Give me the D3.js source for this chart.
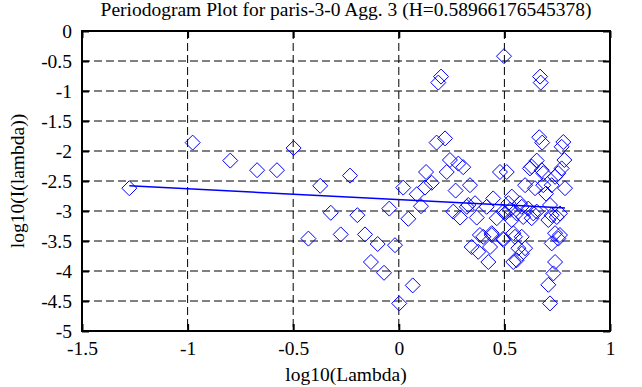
<!DOCTYPE html>
<html>
<head>
<meta charset="utf-8">
<script src="https://cdn.jsdelivr.net/npm/d3@7"></script>
<style>
  body { margin: 0; background: #fff; }
  svg text { font-family: "Liberation Serif", "Times New Roman", serif; fill: #000; }
</style>
</head>
<body>
<svg id="chart"></svg>
<script>
const titleText = 'Periodogram Plot for paris-3-0 Agg. 3 (H=0.58966176545378)';
const xLabel = 'log10(Lambda)';
const yLabel = 'log10(I(lambda))';

const xTicks = [-1.5, -1, -0.5, 0, 0.5, 1];
const yTicks = [0, -0.5, -1, -1.5, -2, -2.5, -3, -3.5, -4, -4.5, -5];

// periodogram points
const logLambda = [
  -1.276, -0.976, -0.798, -0.671, -0.577, -0.498, -0.428, -0.372, -0.322, -0.275,
  -0.231, -0.196, -0.160, -0.100, -0.132, -0.070, -0.018, -0.045, 0.002, 0.021,
  0.045, 0.066, 0.085, 0.105, 0.124, 0.129, 0.156, 0.179, 0.219, 0.200,
  0.187, 0.227, 0.242, 0.282, 0.305, 0.269, 0.337, 0.258, 0.290, 0.329,
  0.361, 0.369, 0.416, 0.447, 0.464, 0.495, 0.519, 0.384, 0.440, 0.495,
  0.345, 0.376, 0.432, 0.424, 0.542, 0.498, 0.479, 0.511, 0.535, 0.542,
  0.582, 0.566, 0.598, 0.582, 0.558, 0.550,
  0.669, 0.672, 0.665, 0.679, 0.779, 0.771, 0.784, 0.653, 0.629, 0.677,
  0.684, 0.621, 0.771, 0.755, 0.740, 0.598, 0.645, 0.684, 0.697, 0.724, 0.787,
  0.527, 0.558, 0.589, 0.629, 0.582, 0.613, 0.653, 0.716, 0.724, 0.708,
  0.763, 0.748, 0.740, 0.763, 0.755, 0.724, 0.740, 0.732, 0.708, 0.716,
  0.574, 0.637, 0.400, 0.440, 0.495, 0.322, 0.503, 0.535
];
const logI = [
  -2.62, -1.86, -2.16, -2.32, -2.32, -1.95, -3.46, -2.58, -3.03, -3.39,
  -2.41, -3.07, -3.39, -3.55, -3.85, -4.03, -3.57, -2.96, -4.54, -2.61,
  -3.13, -4.24, -2.72, -2.92, -2.61, -2.35, -2.53, -1.86, -1.79, -0.76,
  -0.86, -2.35, -2.15, -2.21, -2.27, -2.66, -2.57, -3.01, -3.11, -2.90,
  -2.87, -3.11, -2.93, -2.79, -3.12, -3.01, -2.87, -3.40, -3.40, -3.48,
  -3.60, -3.68, -3.60, -3.85, -3.85, -0.42, -2.35, -2.35, -2.76, -3.37,
  -3.43, -3.62, -3.62, -3.71, -3.82, -3.43,
  -0.76, -0.86, -1.77, -1.86, -1.85, -1.93, -2.15, -2.16, -2.26, -2.32,
  -2.37, -2.29, -2.29, -2.37, -2.43, -2.57, -2.62, -2.57, -2.71, -2.57, -2.62,
  -2.98, -3.04, -3.10, -3.12, -2.93, -2.96, -3.01, -2.90, -3.07, -3.15,
  -3.04, -3.10, -3.37, -3.40, -3.46, -3.54, -3.85, -4.04, -4.23, -4.54,
  -2.87, -3.04, -3.43, -3.37, -3.46, -2.93, -3.04, -3.15
];

// least squares fit line ends
const fitX = [-1.276, 0.787];
const fitY = [-2.58, -2.95];

const width = 642;
const height = 387;
const plot = { left: 82, right: 610, top: 31, bottom: 331 };
const fontSize = 19.5;
const fontFamily = '"Liberation Serif", "Times New Roman", serif';

const svg = d3.select('#chart')
  .attr('width', width)
  .attr('height', height);

const x = d3.scaleLinear().domain([-1.5, 1]).range([plot.left, plot.right]);
const y = d3.scaleLinear().domain([-5, 0]).range([plot.bottom, plot.top]);

// plain hyphen labels like the original
const fmt = (d) => String(d);

// grid
svg.append('g')
  .selectAll('line')
  .data(xTicks.slice(1, -1))
  .enter().append('line')
  .attr('x1', d => x(d)).attr('x2', d => x(d))
  .attr('y1', plot.top).attr('y2', plot.bottom)
  .attr('stroke', '#000').attr('stroke-width', 1)
  .attr('stroke-dasharray', '8,4');

svg.append('g')
  .selectAll('line')
  .data(yTicks.slice(1, -1))
  .enter().append('line')
  .attr('x1', plot.left).attr('x2', plot.right)
  .attr('y1', d => y(d)).attr('y2', d => y(d))
  .attr('stroke', '#000').attr('stroke-width', 1)
  .attr('stroke-dasharray', '8,4');

// axes with inward ticks
const tickLen = 7;
const styleAxis = (g) => {
  g.attr('font-family', fontFamily).attr('font-size', fontSize);
  g.select('.domain').remove();
  g.selectAll('.tick line').attr('stroke', '#000').attr('stroke-width', 2);
  g.selectAll('.tick text')
    .attr('fill', '#000')
    .style('font-family', fontFamily)
    .style('font-size', fontSize + 'px');
};

svg.append('g')
  .attr('transform', `translate(0,${plot.bottom})`)
  .call(d3.axisBottom(x).tickValues(xTicks).tickSize(-tickLen).tickPadding(10).tickFormat(fmt))
  .call(styleAxis);

svg.append('g')
  .attr('transform', `translate(0,${plot.top})`)
  .call(d3.axisTop(x).tickValues(xTicks).tickSize(-tickLen).tickFormat(''))
  .call(styleAxis);

svg.append('g')
  .attr('transform', `translate(${plot.left},0)`)
  .call(d3.axisLeft(y).tickValues(yTicks).tickSize(-tickLen).tickPadding(10).tickFormat(fmt))
  .call(styleAxis);

svg.append('g')
  .attr('transform', `translate(${plot.right},0)`)
  .call(d3.axisRight(y).tickValues(yTicks).tickSize(-tickLen).tickFormat(''))
  .call(styleAxis);

// frame
svg.append('rect')
  .attr('x', plot.left).attr('y', plot.top)
  .attr('width', plot.right - plot.left).attr('height', plot.bottom - plot.top)
  .attr('fill', 'none').attr('stroke', '#000').attr('stroke-width', 2);

// points
const points = logLambda.map((d, i) => [d, logI[i]]);
const diamond = 'M0,-7.5L7.5,0L0,7.5L-7.5,0Z';

svg.append('g')
  .selectAll('path')
  .data(points)
  .enter().append('path')
  .attr('d', diamond)
  .attr('transform', d => `translate(${x(d[0])},${y(d[1])})`)
  .attr('fill', 'none')
  .attr('stroke', '#0000ff')
  .attr('stroke-width', 1);

// fit line
svg.append('path')
  .datum(fitX.map((d, i) => [d, fitY[i]]))
  .attr('d', d3.line().x(d => x(d[0])).y(d => y(d[1])))
  .attr('fill', 'none')
  .attr('stroke', '#0000ff')
  .attr('stroke-width', 1.5);

// title and axis labels
svg.append('text')
  .attr('x', (plot.left + plot.right) / 2)
  .attr('y', 16)
  .attr('text-anchor', 'middle')
  .style('font-size', fontSize + 'px')
  .text(titleText);

svg.append('text')
  .attr('x', (plot.left + plot.right) / 2)
  .attr('y', 381)
  .attr('text-anchor', 'middle')
  .style('font-size', fontSize + 'px')
  .text(xLabel);

svg.append('text')
  .attr('transform', `translate(24,${(plot.top + plot.bottom) / 2}) rotate(-90)`)
  .attr('text-anchor', 'middle')
  .style('font-size', fontSize + 'px')
  .text(yLabel);
</script>
</body>
</html>
